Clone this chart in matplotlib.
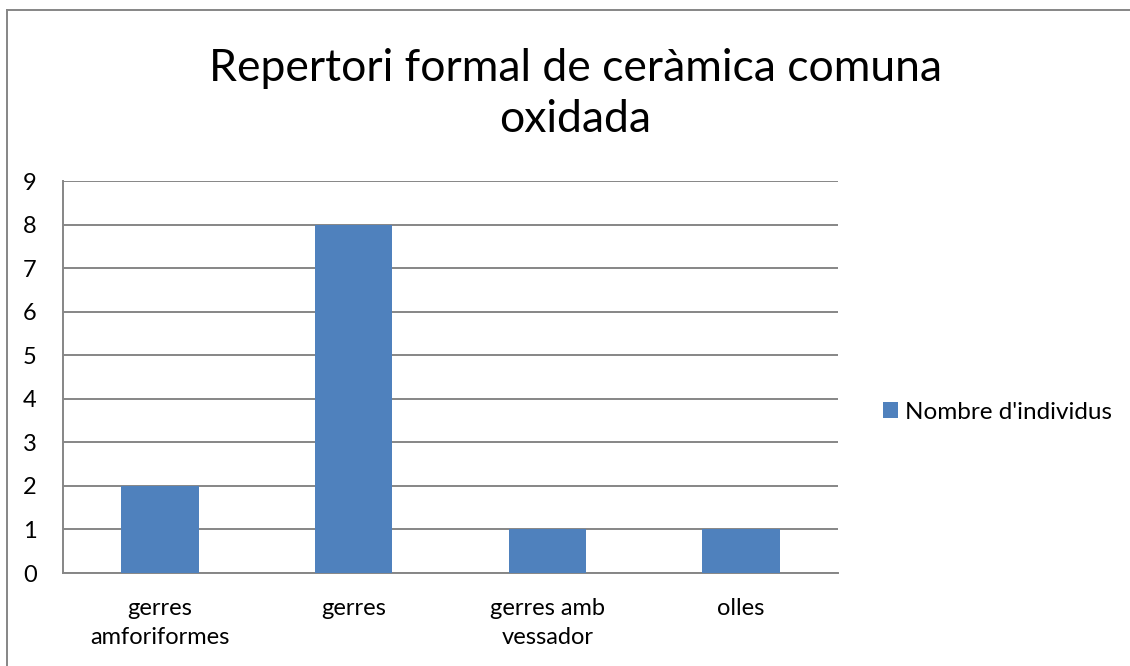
import matplotlib.pyplot as plt
from matplotlib.lines import Line2D
import numpy as np

plt.rcParams['font.family'] = ['Lato', 'DejaVu Sans']

categories = ['gerres\namforiformes', 'gerres', 'gerres amb\nvessador', 'olles']
counts = [2, 8, 1, 1]
y_ticks = list(range(0, 10))
series_name = "Nombre d'individus"
title = 'Repertori formal de ceràmica comuna\noxidada'

bar_color = '#4F81BD'
grid_color = '#868686'

fig = plt.figure(figsize=(11.3, 6.66), dpi=100)
ax = fig.add_axes([63 / 1130, 1 - 573 / 666, 775 / 1130, 392 / 666])

x = np.arange(len(categories))
ax.bar(x, counts, width=0.4, color=bar_color, label=series_name, zorder=3)

ax.set_xlim(-0.5, len(categories) - 0.5)
ax.set_ylim(0, 9)
ax.set_yticks(y_ticks)
ax.set_xticks(x)
ax.set_xticklabels(categories, fontsize=17, linespacing=1.5)
ax.tick_params(axis='y', length=0, labelsize=17, pad=19)
ax.tick_params(axis='x', length=0, pad=18)
ax.yaxis.grid(True, color=grid_color, linewidth=1.4, zorder=0)
ax.set_axisbelow(True)

for side in ['top', 'right']:
    ax.spines[side].set_visible(False)
for side in ['left', 'bottom']:
    ax.spines[side].set_color(grid_color)
    ax.spines[side].set_linewidth(1.4)

fig.text(0.509, 1 - 94 / 666, title, ha='center', va='center',
         fontsize=32, linespacing=1.3)

ax.legend(loc='center left', bbox_to_anchor=(1.03, 0.41), frameon=False,
          fontsize=17.5, handlelength=0.6, handleheight=0.6, handletextpad=0.3)

# outer chart border (left and top edges)
fig.add_artist(Line2D([7 / 1130, 7 / 1130], [0, 1 - 10 / 666],
                      transform=fig.transFigure, color=grid_color, linewidth=1.4))
fig.add_artist(Line2D([7 / 1130, 1], [1 - 10 / 666, 1 - 10 / 666],
                      transform=fig.transFigure, color=grid_color, linewidth=1.4))

fig.savefig('out.png', dpi=100)
